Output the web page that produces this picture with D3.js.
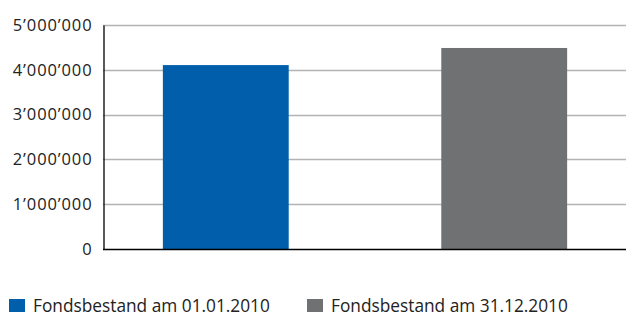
<!DOCTYPE html>
<html><head><meta charset="utf-8">
<script src="https://cdn.jsdelivr.net/npm/d3@7"></script>
<style>
body{margin:0;background:#fff;}
text{font-family:"Open Sans",sans-serif;}
</style></head>
<body>
<svg id="c" width="626" height="314"></svg>
<script>
const categories = ["Fondsbestand am 01.01.2010", "Fondsbestand am 31.12.2010"];
const values = [4105000, 4487000];
const colors = ["#005eaa", "#707173"];
const tickValues = [0, 1000000, 2000000, 3000000, 4000000, 5000000];
const tickLabels = ["0", "1’000’000", "2’000’000", "3’000’000", "4’000’000", "5’000’000"];

const svg = d3.select("#c");
const x0 = 103, x1 = 627, yTop = 25, yBot = 249;
const x = d3.scaleBand().domain(categories).range([x0, x1]).paddingInner(0.548).paddingOuter(0.215);
const y = d3.scaleLinear().domain([0, 5000000]).range([yBot, yTop]);

// gridlines
svg.append("g").selectAll("line").data(tickValues.filter(d => d > 0)).join("line")
  .attr("x1", x0).attr("x2", 626)
  .attr("y1", d => Math.round(y(d)) + 0.5).attr("y2", d => Math.round(y(d)) + 0.5)
  .attr("stroke", "#b3b3b3").attr("stroke-width", 1.5);

// bars
svg.append("g").selectAll("rect").data(categories).join("rect")
  .attr("x", d => x(d)).attr("width", x.bandwidth())
  .attr("y", (d, i) => y(values[i])).attr("height", (d, i) => yBot - y(values[i]))
  .attr("fill", (d, i) => colors[i]);

// y axis
const yAxis = d3.axisLeft(y).tickValues(tickValues).tickSize(0).tickPadding(11)
  .tickFormat((d, i) => tickLabels[i]);
const ga = svg.append("g").attr("transform", `translate(${x0 + 0.5},0)`).call(yAxis);
ga.select(".domain").attr("stroke", "#000").attr("stroke-width", 1.3);
ga.selectAll("text").attr("font-size", 16.5).attr("letter-spacing", "0.9px").attr("fill", "#222")
  .attr("font-family", "'Open Sans',sans-serif");
// baseline
svg.append("line").attr("x1", x0).attr("x2", 626).attr("y1", yBot + 0.5).attr("y2", yBot + 0.5)
  .attr("stroke", "#000").attr("stroke-width", 1.3);

// legend
const legX = [9, 307];
const lg = svg.append("g").selectAll("g").data(categories).join("g")
  .attr("transform", (d, i) => `translate(${legX[i]},0)`);
lg.append("rect").attr("x", 0).attr("y", 299).attr("width", 16).attr("height", 13)
  .attr("fill", (d, i) => colors[i]);
lg.append("text").attr("x", 24).attr("y", 311.5).attr("font-size", 17.3).attr("fill", "#222").text(d => d);
</script>
</body></html>
